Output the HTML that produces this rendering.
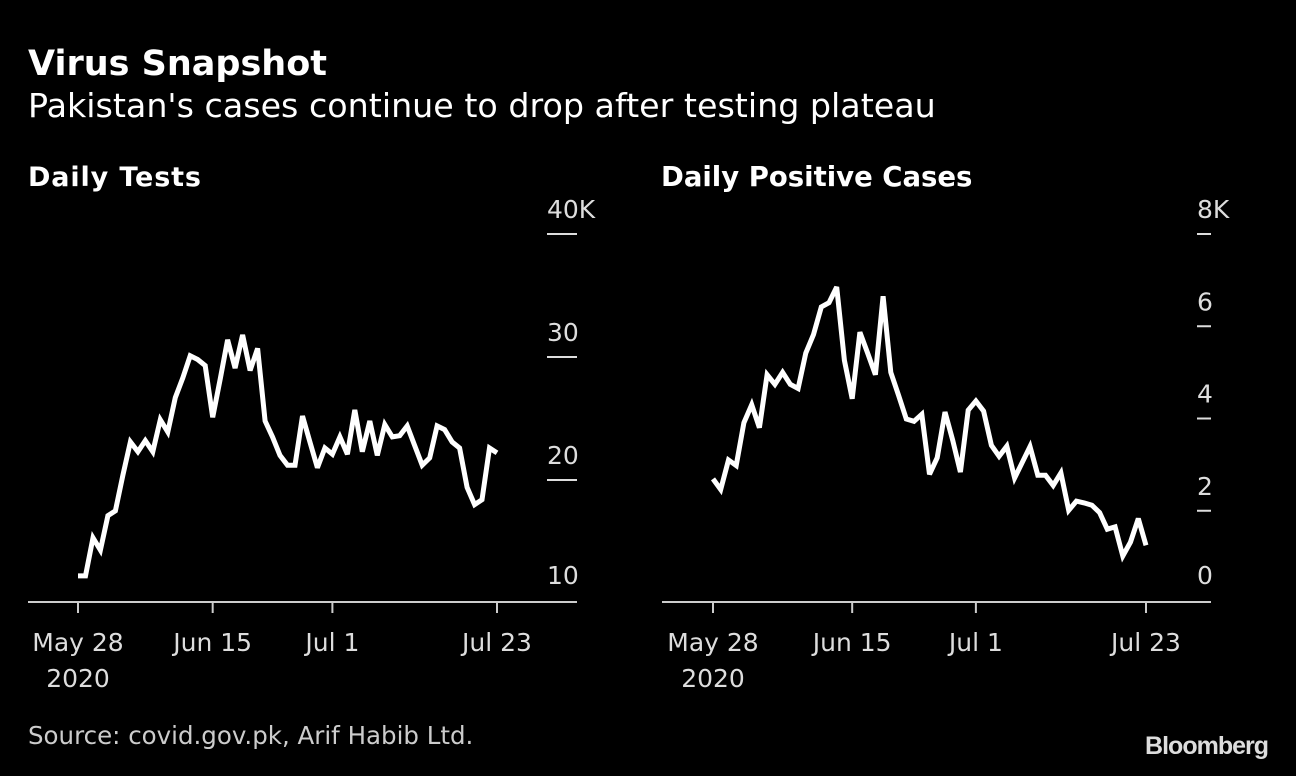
<!DOCTYPE html>
<html><head><meta charset="utf-8"><style>
html,body{margin:0;padding:0;background:#000;}
body{width:1296px;height:772px;overflow:hidden;font-family:"DejaVu Sans",sans-serif;color:#fff;}
svg text{font-family:"DejaVu Sans","Liberation Sans",sans-serif;}
</style></head><body>
<svg id="chart" width="1296" height="772" viewBox="0 0 1296 772">
<text x="28" y="75" font-size="35" font-weight="bold" fill="#fff">Virus Snapshot</text>
<text x="28" y="117" font-size="33.3" fill="#fff">Pakistan's cases continue to drop after testing plateau</text>
<text x="28" y="186" font-size="27" font-weight="bold" fill="#fff" textLength="173">Daily Tests</text>
<text x="661" y="186" font-size="27.5" font-weight="bold" fill="#fff">Daily Positive Cases</text>
<text x="28" y="744" font-size="24.5" fill="#ccc">Source: covid.gov.pk, Arif Habib Ltd.</text>
<text x="1268" y="754" font-size="25" font-weight="bold" fill="#ddd" text-anchor="end" letter-spacing="-1" style="font-family:'Liberation Sans',sans-serif">Bloomberg</text>
<g id="p1"></g><g id="p2"></g>
</svg>
<script>
const dates = ["May 28","Jun 15","Jul 1","Jul 23"];
const dateDays = [0,18,34,56];
const testTicks = [10,20,30,40];
const testTickLabels = ["10","20","30","40K"];
const caseTicks = [0,2,4,6,8];
const caseTickLabels = ["0","2","4","6","8K"];
const tests = [12.2,12.2,15.3,14.3,17.1,17.5,20.4,23.1,22.3,23.2,22.3,24.9,23.9,26.7,28.3,30.1,29.8,29.3,25.1,28.2,31.4,29.1,31.8,28.9,30.7,24.8,23.5,22.0,21.2,21.2,25.2,23.1,21.0,22.6,22.1,23.5,22.1,25.7,22.3,24.8,22.0,24.5,23.5,23.6,24.4,22.8,21.2,21.8,24.4,24.1,23.1,22.6,19.4,18.0,18.4,22.6,22.2];
const cases = [2.69,2.46,3.10,2.98,3.91,4.30,3.80,4.95,4.74,5.00,4.74,4.65,5.42,5.82,6.42,6.51,6.85,5.26,4.43,5.87,5.42,4.95,6.65,5.0,4.50,3.99,3.94,4.09,2.79,3.15,4.14,3.53,2.84,4.18,4.38,4.16,3.42,3.18,3.40,2.71,3.05,3.39,2.77,2.77,2.55,2.82,2.01,2.21,2.17,2.12,1.96,1.60,1.65,1.02,1.32,1.83,1.25];
const NS="http://www.w3.org/2000/svg";
function mk(tag,attrs,parent){const e=document.createElementNS(NS,tag);for(const k in attrs)e.setAttribute(k,attrs[k]);parent.appendChild(e);return e;}
function panel(g,cfg){
  const xs=d=>cfg.x0+(cfg.x1-cfg.x0)*d/56;
  const ys=v=>cfg.yBase-(v-cfg.vMin)/(cfg.vMax-cfg.vMin)*(cfg.yBase-234);
  const ax=mk('line',{x1:cfg.axL,x2:cfg.axR,y1:602,y2:602,stroke:'#ccc','stroke-width':2},g);
  
  
  cfg.ticks.forEach((t,i)=>{
    const y=ys(t);
    if(i>0){const l=mk('line',{x1:cfg.tickL,x2:cfg.axR,y1:y,y2:y,stroke:'#ddd','stroke-width':2},g);
    
    }
    const tx=mk('text',{x:cfg.tickL,y:(i>0?y-16:y-19),'font-size':25,fill:'#ddd'},g);
    tx.textContent=cfg.labels[i];
    
    
  });
  dates.forEach((d,i)=>{
    const x=xs(dateDays[i]);
    const l=mk('line',{x1:x,x2:x,y1:602,y2:613,stroke:'#ccc','stroke-width':2},g);
    
    
    const t=mk('text',{x:x,y:651,'font-size':25,fill:'#ddd','text-anchor':'middle'},g);
    t.textContent=d;
    
    
  });
  const yr=mk('text',{x:xs(0),y:687,'font-size':25,fill:'#ddd','text-anchor':'middle'},g);
  yr.textContent='2020';
  
  
  const pts=cfg.data.map((v,i)=>xs(i).toFixed(1)+','+ys(v).toFixed(1)).join(' ');
  const pl=mk('polyline',{points:pts,fill:'none',stroke:'#fff','stroke-width':5,'stroke-linejoin':'miter','stroke-miterlimit':3},g);
  
  
}
panel(document.getElementById('p1'),{x0:78,x1:497,axL:28,axR:577,tickL:547,yBase:603,vMin:10,vMax:40,ticks:testTicks,labels:testTickLabels,data:tests,name:'tests-line'});
panel(document.getElementById('p2'),{x0:713,x1:1146,axL:662,axR:1211,tickL:1197,yBase:603,vMin:0,vMax:8,ticks:caseTicks,labels:caseTickLabels,data:cases,name:'cases-line'});
</script>
</body></html>
